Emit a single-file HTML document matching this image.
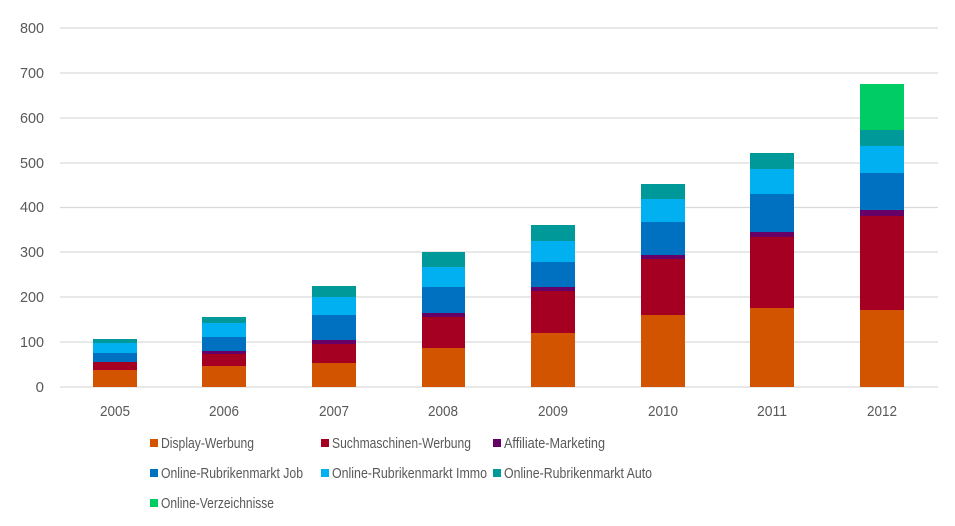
<!DOCTYPE html>
<html><head><meta charset="utf-8"><style>body{margin:0;background:#fff}svg{display:block}text{font-family:"Liberation Sans",sans-serif;fill:#595959}</style></head><body>
<svg width="955" height="526" viewBox="0 0 955 526" xmlns="http://www.w3.org/2000/svg">
<g stroke="#d9d9d9" stroke-width="1.3">
<line x1="60" x2="938" y1="28" y2="28"/><line x1="60" x2="938" y1="73" y2="73"/><line x1="60" x2="938" y1="118" y2="118"/><line x1="60" x2="938" y1="163" y2="163"/><line x1="60" x2="938" y1="207.5" y2="207.5"/><line x1="60" x2="938" y1="252" y2="252"/><line x1="60" x2="938" y1="297" y2="297"/><line x1="60" x2="938" y1="342" y2="342"/><line x1="60" x2="938" y1="387" y2="387"/>
</g>
<g font-size="15" text-anchor="end">
<text x="44" y="33" textLength="24" lengthAdjust="spacingAndGlyphs">800</text><text x="44" y="78" textLength="24" lengthAdjust="spacingAndGlyphs">700</text><text x="44" y="123" textLength="24" lengthAdjust="spacingAndGlyphs">600</text><text x="44" y="168" textLength="24" lengthAdjust="spacingAndGlyphs">500</text><text x="44" y="212" textLength="24" lengthAdjust="spacingAndGlyphs">400</text><text x="44" y="257" textLength="24" lengthAdjust="spacingAndGlyphs">300</text><text x="44" y="302" textLength="24" lengthAdjust="spacingAndGlyphs">200</text><text x="44" y="347" textLength="24" lengthAdjust="spacingAndGlyphs">100</text><text x="44" y="392">0</text>
</g>
<g font-size="15" text-anchor="middle">
<text x="115" y="416" textLength="30" lengthAdjust="spacingAndGlyphs">2005</text><text x="224" y="416" textLength="30" lengthAdjust="spacingAndGlyphs">2006</text><text x="334" y="416" textLength="30" lengthAdjust="spacingAndGlyphs">2007</text><text x="443" y="416" textLength="30" lengthAdjust="spacingAndGlyphs">2008</text><text x="553" y="416" textLength="30" lengthAdjust="spacingAndGlyphs">2009</text><text x="663" y="416" textLength="30" lengthAdjust="spacingAndGlyphs">2010</text><text x="772" y="416" textLength="30" lengthAdjust="spacingAndGlyphs">2011</text><text x="882" y="416" textLength="30" lengthAdjust="spacingAndGlyphs">2012</text>
</g>
<rect x="93" y="339" width="44" height="4" fill="#009999"/><rect x="93" y="343" width="44" height="10" fill="#00b0f0"/><rect x="93" y="353" width="44" height="9" fill="#0070c0"/><rect x="93" y="362" width="44" height="8" fill="#a50021"/><rect x="93" y="370" width="44" height="17" fill="#d35400"/>
<rect x="202" y="317" width="44" height="6" fill="#009999"/><rect x="202" y="323" width="44" height="14" fill="#00b0f0"/><rect x="202" y="337" width="44" height="14" fill="#0070c0"/><rect x="202" y="351" width="44" height="3" fill="#660066"/><rect x="202" y="354" width="44" height="12" fill="#a50021"/><rect x="202" y="366" width="44" height="21" fill="#d35400"/>
<rect x="312" y="286" width="44" height="11" fill="#009999"/><rect x="312" y="297" width="44" height="18" fill="#00b0f0"/><rect x="312" y="315" width="44" height="25" fill="#0070c0"/><rect x="312" y="340" width="44" height="4" fill="#660066"/><rect x="312" y="344" width="44" height="19" fill="#a50021"/><rect x="312" y="363" width="44" height="24" fill="#d35400"/>
<rect x="422" y="252" width="43" height="15" fill="#009999"/><rect x="422" y="267" width="43" height="20" fill="#00b0f0"/><rect x="422" y="287" width="43" height="26" fill="#0070c0"/><rect x="422" y="313" width="43" height="4" fill="#660066"/><rect x="422" y="317" width="43" height="31" fill="#a50021"/><rect x="422" y="348" width="43" height="39" fill="#d35400"/>
<rect x="531" y="225" width="44" height="16" fill="#009999"/><rect x="531" y="241" width="44" height="21" fill="#00b0f0"/><rect x="531" y="262" width="44" height="25" fill="#0070c0"/><rect x="531" y="287" width="44" height="4" fill="#660066"/><rect x="531" y="291" width="44" height="42" fill="#a50021"/><rect x="531" y="333" width="44" height="54" fill="#d35400"/>
<rect x="641" y="184" width="44" height="15" fill="#009999"/><rect x="641" y="199" width="44" height="23" fill="#00b0f0"/><rect x="641" y="222" width="44" height="33" fill="#0070c0"/><rect x="641" y="255" width="44" height="4" fill="#660066"/><rect x="641" y="259" width="44" height="56" fill="#a50021"/><rect x="641" y="315" width="44" height="72" fill="#d35400"/>
<rect x="750" y="153" width="44" height="16" fill="#009999"/><rect x="750" y="169" width="44" height="25" fill="#00b0f0"/><rect x="750" y="194" width="44" height="38" fill="#0070c0"/><rect x="750" y="232" width="44" height="5" fill="#660066"/><rect x="750" y="237" width="44" height="71" fill="#a50021"/><rect x="750" y="308" width="44" height="79" fill="#d35400"/>
<rect x="860" y="84" width="44" height="46" fill="#00cc66"/><rect x="860" y="130" width="44" height="16" fill="#009999"/><rect x="860" y="146" width="44" height="27" fill="#00b0f0"/><rect x="860" y="173" width="44" height="37" fill="#0070c0"/><rect x="860" y="210" width="44" height="6" fill="#660066"/><rect x="860" y="216" width="44" height="94" fill="#a50021"/><rect x="860" y="310" width="44" height="77" fill="#d35400"/>
<g font-size="15">
<rect x="150" y="439" width="8" height="8" fill="#d35400"/><text x="161" y="448" textLength="93" lengthAdjust="spacingAndGlyphs">Display-Werbung</text>
<rect x="321" y="439" width="8" height="8" fill="#a50021"/><text x="332" y="448" textLength="139" lengthAdjust="spacingAndGlyphs">Suchmaschinen-Werbung</text>
<rect x="493" y="439" width="8" height="8" fill="#660066"/><text x="504" y="448" textLength="101" lengthAdjust="spacingAndGlyphs">Affiliate-Marketing</text>
<rect x="150" y="469" width="8" height="8" fill="#0070c0"/><text x="161" y="478" textLength="142" lengthAdjust="spacingAndGlyphs">Online-Rubrikenmarkt Job</text>
<rect x="321" y="469" width="8" height="8" fill="#00b0f0"/><text x="332" y="478" textLength="155" lengthAdjust="spacingAndGlyphs">Online-Rubrikenmarkt Immo</text>
<rect x="493" y="469" width="8" height="8" fill="#009999"/><text x="504" y="478" textLength="148" lengthAdjust="spacingAndGlyphs">Online-Rubrikenmarkt Auto</text>
<rect x="150" y="499" width="8" height="8" fill="#00cc66"/><text x="161" y="508" textLength="113" lengthAdjust="spacingAndGlyphs">Online-Verzeichnisse</text>
</g>
</svg>
</body></html>
